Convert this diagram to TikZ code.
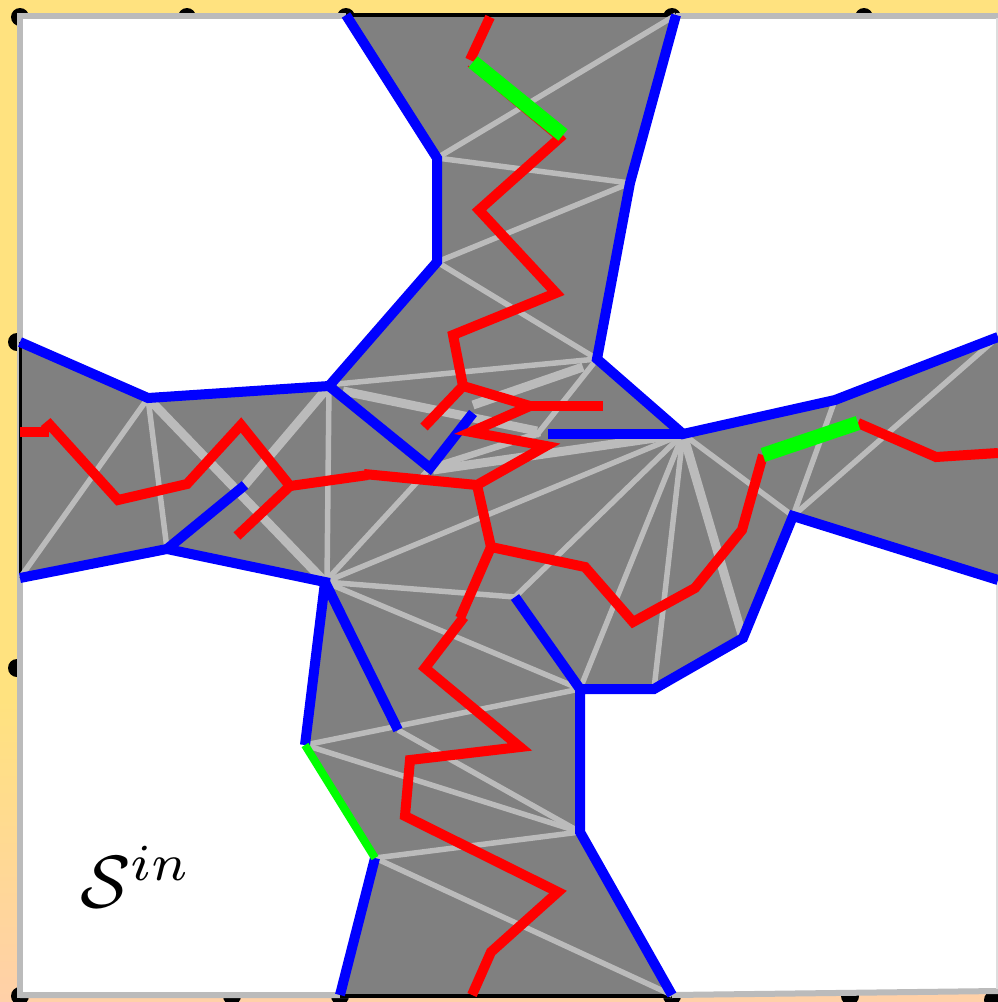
\documentclass[tikz,border=0pt]{standalone}
\definecolor{bgyellow}{HTML}{FFE27F}
\definecolor{bgpeach}{HTML}{FFD0A8}
\definecolor{edgegrey}{HTML}{BBBBBB}
\definecolor{fillgrey}{HTML}{808080}
\tikzset{
  thinedge/.style={draw=edgegrey,line width=5.5pt},
  thickedge/.style={draw=edgegrey,line width=9pt},
  wall/.style={draw=blue,line width=10pt,line join=miter},
  route/.style={draw=red,line width=10pt,line join=miter},
  gate/.style={draw=green,line width=14.5pt},
  dot/.style={fill=black},
}
\begin{document}
\begin{tikzpicture}[x=1pt,y=-1pt]
\useasboundingbox (0,0) rectangle (998,1002);
\begin{scope}
\clip (0,0) rectangle (998,1002);
% background
\fill[bgyellow] (0,0) rectangle (998,701);
\shade[top color=bgyellow,bottom color=bgpeach] (0,700) rectangle (998,1002);
% dots
\foreach \x/\y in {20/17,187/17,346/17,672/17,864/17,17/342,17/668,20/996,232/996,340/996,672/996,850/996,993/1000}
  \fill[dot] (\x,\y) circle (9);
% white field
\fill[white] (20,16) -- (998,16) -- (998,992) -- (672,995) -- (20,995) -- cycle;
\draw[edgegrey,line width=6pt] (20,16) -- (998,16);
\draw[edgegrey,line width=6pt] (20,13) -- (20,998);
\draw[edgegrey,line width=6pt] (20,995) -- (672,995) -- (998,991);
\draw[edgegrey!50,line width=2pt] (997,18) -- (997,989);
% region
\fill[fillgrey] (346,15) -- (437,158) -- (437,262) -- (329,386) -- (148,398) -- (20,342)
  -- (20,578) -- (167,549) -- (325,582) -- (305,745) -- (375,858) -- (340,995)
  -- (672,995) -- (580,832) -- (580,689) -- (654,689) -- (743,638) -- (793,516)
  -- (998,580) -- (998,337) -- (835,400) -- (683,434) -- (597,359) -- (630,183) -- (676,15) -- cycle;
\draw[black,line width=3.5pt] (346,15) -- (676,15);
\draw[black,line width=3pt] (20,342) -- (20,578);
\draw[black,line width=4pt] (340,996) -- (672,996);
% triangulation
\foreach \a/\b/\c/\d in {437/158/676/15,437/158/630/183,630/183/437/262,437/262/597/359,
  337/384/597/359,597/359/536/436,430/468/325/582,325/582/683/434,515/597/683/434,
  683/434/580/689,683/434/654/689,835/400/793/516,998/337/793/516,683/434/793/516,
  325/582/515/597,325/582/580/689,327/582/329/386,148/398/20/578,148/398/167/549,
  305/745/580/689,305/745/580/832,398/730/580/832,375/858/580/832,375/858/672/995}
  \draw[thinedge] (\a,\b) -- (\c,\d);
\foreach \a/\b/\c/\d in {343/391/537/431,473/405/583/367,433/470/683/434,148/398/325/582,
  329/386/245/485,683/434/743/638}
  \draw[thickedge] (\a,\b) -- (\c,\d);
\draw[thickedge,line width=6.5pt] (433,467) -- (540,433);
% walls
\draw[wall] (346,15) -- (437,158) -- (437,262) -- (329,386) -- (148,398) -- (20,342);
\draw[wall] (20,578) -- (167,549) -- (325,582) -- (305,745);
\draw[wall] (375,858) -- (340,995);
\draw[wall] (672,995) -- (580,832) -- (580,689) -- (654,689) -- (743,638) -- (793,516) -- (998,580);
\draw[wall] (998,337) -- (835,400) -- (683,434) -- (597,359) -- (630,183) -- (676,15);
\draw[wall] (329,386) -- (430,468) -- (473,413);
\draw[wall] (167,549) -- (245,485);
\draw[wall] (325,582) -- (398,730);
\draw[wall] (515,597) -- (580,689);
\draw[wall] (548,434) -- (683,434);
\draw[green,line width=8pt] (305,745) -- (375,858);
% routes
\draw[route] (490,17) -- (470,60);
\draw[red,line width=1pt] (468,66) -- (558,141);
\draw[route] (563,135) -- (479,210) -- (556,293) -- (453,335) -- (463,386) -- (530,406) -- (471,432)
  -- (546,446) -- (477,485) -- (364,474);
\draw[route] (368,475) -- (290,486) -- (241,425) -- (187,484) -- (118,500) -- (50,425) -- (44,430);
\draw[route] (20,432) -- (49,432);
\draw[route] (463,386) -- (424,427);
\draw[route] (530,406) -- (603,406);
\draw[route] (290,486) -- (237,536);
\draw[route] (477,485) -- (491,547) -- (585,567) -- (633,622) -- (695,588) -- (742,530) -- (763,455);
\draw[route] (858,423) -- (936,457) -- (998,453);
\draw[route] (491,547) -- (460,618);
\draw[route] (464,617) -- (425,668) -- (520,747) -- (410,760) -- (405,816) -- (558,892)
  -- (491,952) -- (472,995);
\draw[gate] (473,62) -- (563,135);
\draw[gate] (763,455) -- (858,423);
\node[anchor=base west,inner sep=0pt,text=black,scale=7.4] (label) at (79,907) {$\mathcal{S}^{in}$};
\end{scope}
\end{tikzpicture}
\end{document}
